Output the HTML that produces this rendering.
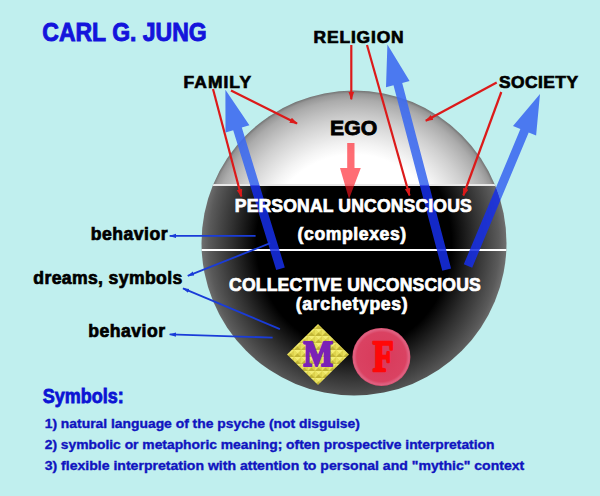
<!DOCTYPE html>
<html><head><meta charset="utf-8">
<style>
html,body{margin:0;padding:0;background:#c0efee;}
body{width:600px;height:496px;overflow:hidden;}
svg{display:block;}
text{font-family:"Liberation Sans",sans-serif;font-weight:bold;}
</style></head><body>
<svg width="600" height="496" viewBox="0 0 600 496">
<defs>
  <radialGradient id="gTop" gradientUnits="userSpaceOnUse" cx="354" cy="243" r="152.5">
    <stop offset="0" stop-color="#ffffff"/>
    <stop offset="0.58" stop-color="#ffffff"/>
    <stop offset="0.65" stop-color="#f3f3f3"/>
    <stop offset="0.73" stop-color="#e2e2e2"/>
    <stop offset="0.81" stop-color="#d0d0d0"/>
    <stop offset="0.88" stop-color="#bdbdbd"/>
    <stop offset="0.94" stop-color="#ababab"/>
    <stop offset="0.98" stop-color="#969696"/>
    <stop offset="1" stop-color="#727272"/>
  </radialGradient>
  <radialGradient id="gBot" gradientUnits="userSpaceOnUse" cx="0" cy="0" r="1" gradientTransform="translate(354,243) scale(152.5,166)">
    <stop offset="0" stop-color="#000000"/>
    <stop offset="0.64" stop-color="#000000"/>
    <stop offset="0.72" stop-color="#181818"/>
    <stop offset="0.80" stop-color="#303030"/>
    <stop offset="0.88" stop-color="#464646"/>
    <stop offset="0.95" stop-color="#5a5a5a"/>
    <stop offset="1" stop-color="#707070"/>
  </radialGradient>
  <clipPath id="cTop"><rect x="0" y="0" width="600" height="185"/></clipPath>
  <clipPath id="cBot"><rect x="0" y="185" width="600" height="311"/></clipPath>
  <clipPath id="cLow"><path d="M212.96,185 L495.04,185 A152.5,152.5 0 1,1 212.96,185 z"/></clipPath>
  <clipPath id="cOut"><path clip-rule="evenodd" d="M0,0 H600 V496 H0 z M212.96,185 L495.04,185 A152.5,152.5 0 1,1 212.96,185 z"/></clipPath>
  <clipPath id="cSph"><circle cx="354" cy="243" r="152.5"/></clipPath>
  <radialGradient id="gF" cx="0.5" cy="0.5" r="0.5">
    <stop offset="0" stop-color="#d83a5a"/>
    <stop offset="0.85" stop-color="#da4262"/>
    <stop offset="0.95" stop-color="#e06282"/>
    <stop offset="1" stop-color="#d85070"/>
  </radialGradient>
  <pattern id="pY" patternUnits="userSpaceOnUse" x="0" y="0" width="7" height="7">
    <rect width="7" height="7" fill="#ddd24c"/>
    <path d="M0,0 L7,0 L3.5,3.5 z" fill="#f4ee74"/>
    <path d="M0,0 L3.5,3.5 L0,7 z" fill="#e8e05c"/>
    <path d="M7,7 L0,7 L3.5,3.5 z" fill="#c2b636"/>
  </pattern>
  <marker id="mr" viewBox="0 0 10 10" refX="9" refY="5" markerWidth="8" markerHeight="8" markerUnits="userSpaceOnUse" orient="auto">
    <path d="M0,1.5 L10,5 L0,8.5 z" fill="#dc1a1a"/>
  </marker>
  <marker id="mb" viewBox="0 0 10 10" refX="9" refY="5" markerWidth="7" markerHeight="7" markerUnits="userSpaceOnUse" orient="auto">
    <path d="M0,2 L10,5 L0,8 z" fill="#1a3cd8"/>
  </marker>
</defs>

<!-- title -->
<text x="42.3" y="40.7" font-size="25.3" fill="#1414dc" stroke="#1414dc" stroke-width="0.9" textLength="164.4" lengthAdjust="spacingAndGlyphs">CARL G. JUNG</text>

<!-- sphere -->
<circle cx="354" cy="243" r="152.5" fill="url(#gTop)" clip-path="url(#cTop)"/>
<circle cx="354" cy="243" r="152.5" fill="url(#gBot)" clip-path="url(#cBot)"/>
<g clip-path="url(#cSph)">
  <rect x="190" y="184" width="330" height="2" fill="#e8e8e8"/>
  <rect x="190" y="249" width="330" height="2" fill="#ffffff"/>
</g>

<!-- EGO arrow -->
<path d="M347.2,143 L354.5,143 L354.5,168 L360.8,168 L349,199 L340,168 L347.2,168 z" fill="rgb(255,20,30)" fill-opacity="0.62"/>

<!-- red thin arrows -->
<g stroke="#dc1a1a" stroke-width="2.2" fill="none">
  <line x1="213" y1="89" x2="241.3" y2="196.5" marker-end="url(#mr)"/>
  <line x1="231" y1="90.4" x2="297" y2="123.5" marker-end="url(#mr)"/>
  <line x1="351.3" y1="45" x2="351.3" y2="99.3" marker-end="url(#mr)"/>
  <line x1="367" y1="45" x2="409.5" y2="195.5" marker-end="url(#mr)"/>
  <line x1="496.7" y1="82.5" x2="425.8" y2="120.8" marker-end="url(#mr)"/>
  <line x1="501.3" y1="92" x2="463.3" y2="195.5" marker-end="url(#mr)"/>
</g>

<!-- blue big arrows -->
<g fill="rgb(62,108,240)" fill-opacity="0.9" clip-path="url(#cOut)">
  <path d="M284.8,267.4 L241.8,127.6 L249.4,125.2 L225.4,89.7 L225.5,132.6 L233.2,130.2 L276.2,270.0 z"/>
  <path d="M451.1,268.5 L402.2,82.9 L409.6,80.9 L387.4,44.4 L386.0,87.2 L393.5,85.2 L442.3,270.7 z"/>
  <path d="M472.2,267.7 L528.7,132.5 L536.1,135.6 L540.0,93.9 L513.0,126.0 L520.4,129.1 L463.8,264.3 z"/>
</g>
<g fill="rgb(22,46,232)" fill-opacity="0.86" clip-path="url(#cLow)">
  <path d="M284.8,267.4 L241.8,127.6 L249.4,125.2 L225.4,89.7 L225.5,132.6 L233.2,130.2 L276.2,270.0 z"/>
  <path d="M451.1,268.5 L402.2,82.9 L409.6,80.9 L387.4,44.4 L386.0,87.2 L393.5,85.2 L442.3,270.7 z"/>
  <path d="M472.2,267.7 L528.7,132.5 L536.1,135.6 L540.0,93.9 L513.0,126.0 L520.4,129.1 L463.8,264.3 z"/>
</g>

<!-- blue thin arrows -->
<g stroke="#1a3cd8" stroke-width="1.8" fill="none">
  <line x1="255.6" y1="235.9" x2="169.7" y2="235.9" marker-end="url(#mb)"/>
  <line x1="270.2" y1="243.2" x2="187.8" y2="275.8" marker-end="url(#mb)"/>
  <line x1="279.9" y1="329.1" x2="183" y2="288.4" marker-end="url(#mb)"/>
  <line x1="272.6" y1="337.6" x2="169.7" y2="334.4" marker-end="url(#mb)"/>
</g>

<!-- labels -->
<text x="313.6" y="42.8" font-size="17.4" fill="#000" stroke="#000" stroke-width="0.7" textLength="90" lengthAdjust="spacing">RELIGION</text>
<text x="183.6" y="88" font-size="17.4" fill="#000" stroke="#000" stroke-width="0.7" textLength="67.4" lengthAdjust="spacing">FAMILY</text>
<text x="499" y="87.5" font-size="17.4" fill="#000" stroke="#000" stroke-width="0.7" textLength="79" lengthAdjust="spacing">SOCIETY</text>
<text x="330" y="135.4" font-size="21" fill="#000" stroke="#000" stroke-width="0.8" textLength="47.2" lengthAdjust="spacingAndGlyphs">EGO</text>

<text x="234.75" y="212.3" font-size="17.6" fill="#fff" stroke="#fff" stroke-width="0.7" textLength="237" lengthAdjust="spacing">PERSONAL UNCONSCIOUS</text>
<text x="297.6" y="240" font-size="17.6" fill="#fff" stroke="#fff" stroke-width="0.7" textLength="108.6" lengthAdjust="spacing">(complexes)</text>
<text x="229.1" y="291.4" font-size="17.6" fill="#fff" stroke="#fff" stroke-width="0.7" textLength="251.7" lengthAdjust="spacing">COLLECTIVE UNCONSCIOUS</text>
<text x="295.8" y="310" font-size="17.6" fill="#fff" stroke="#fff" stroke-width="0.7" textLength="111.7" lengthAdjust="spacing">(archetypes)</text>

<text x="90.8" y="240" font-size="17.6" fill="#000" stroke="#000" stroke-width="0.7" textLength="76.7" lengthAdjust="spacing">behavior</text>
<text x="33.3" y="283.6" font-size="17.6" fill="#000" stroke="#000" stroke-width="0.7" textLength="148.9" lengthAdjust="spacing">dreams, symbols</text>
<text x="88.3" y="336.7" font-size="17.6" fill="#000" stroke="#000" stroke-width="0.7" textLength="76.7" lengthAdjust="spacing">behavior</text>

<!-- M diamond -->
<path d="M318,324 L349,354.5 L318,385 L287,354.5 z" fill="url(#pY)"/>
<text x="303.4" y="366.2" font-size="35" fill="#7a22b6" stroke="#7a22b6" stroke-width="2.2" stroke-linejoin="round" style="font-family:'Liberation Serif',serif" textLength="29.5" lengthAdjust="spacingAndGlyphs">M</text>

<!-- F circle -->
<circle cx="381.4" cy="356.9" r="29" fill="url(#gF)"/>
<text x="372.8" y="371" font-size="44" fill="#ff0808" stroke="#ff0808" stroke-width="2.4" stroke-linejoin="round" style="font-family:'Liberation Serif',serif" textLength="21" lengthAdjust="spacingAndGlyphs">F</text>

<!-- bottom text -->
<text x="42.7" y="402.7" font-size="20" fill="#0c14d4" stroke="#0c14d4" stroke-width="0.8" textLength="81" lengthAdjust="spacingAndGlyphs">Symbols:</text>
<text x="44.7" y="428" font-size="12.6" fill="#1014c0" stroke="#1014c0" stroke-width="0.35" textLength="315.1" lengthAdjust="spacingAndGlyphs">1) natural language of the psyche (not disguise)</text>
<text x="44.7" y="449.2" font-size="12.6" fill="#1014c0" stroke="#1014c0" stroke-width="0.35" textLength="449.8" lengthAdjust="spacingAndGlyphs">2) symbolic or metaphoric meaning; often prospective interpretation</text>
<text x="44.7" y="470.3" font-size="12.6" fill="#1014c0" stroke="#1014c0" stroke-width="0.35" textLength="479.6" lengthAdjust="spacingAndGlyphs">3) flexible interpretation with attention to personal and "mythic" context</text>
</svg>
</body></html>
